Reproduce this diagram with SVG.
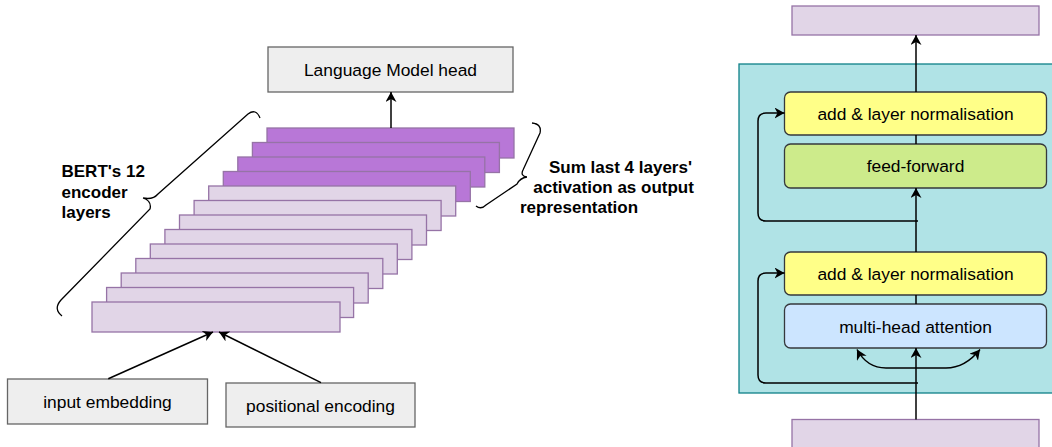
<svg xmlns="http://www.w3.org/2000/svg" width="1052" height="447" viewBox="0 0 1052 447">
<style>
text{font-family:"Liberation Sans",Arial,Helvetica,sans-serif;fill:#000}
.lbl{font-size:17.4px;text-anchor:middle}
.bold{font-size:17px;font-weight:bold}
.grey{fill:#eeeeee;stroke:#666666;stroke-width:1.3}
.dark{fill:#b877d7;stroke:#9673a6;stroke-width:1.3}
.light{fill:#e1d5e7;stroke:#9673a6;stroke-width:1.3}
.yel{fill:#ffff88;stroke:#36393d;stroke-width:1.3}
.grn{fill:#cdeb8b;stroke:#36393d;stroke-width:1.3}
.blu{fill:#cce5ff;stroke:#36393d;stroke-width:1.3}
.con{fill:none;stroke:#000;stroke-width:1.5}
.arr{marker-end:url(#ah)}
.brace{fill:none;stroke:#000;stroke-width:1.3}
</style>
<defs>
<marker id="ah" markerUnits="userSpaceOnUse" markerWidth="12" markerHeight="12" refX="10" refY="5.5" orient="auto">
<path d="M0,0 L10,5.5 L0,11 L3,5.5 Z" fill="#000"/>
</marker>
</defs>

<g id="lm-head"><rect class="grey" x="268" y="47" width="245" height="45"/><text class="lbl" x="390.5" y="75.5">Language Model head</text></g>

<g id="layers">
<g id="layer-1"><rect class="dark" x="267" y="128" width="247" height="30"/></g>
<g id="layer-2"><rect class="dark" x="252.4" y="142.5" width="247" height="30"/></g>
<g id="layer-3"><rect class="dark" x="237.8" y="157" width="247" height="30"/></g>
<g id="layer-4"><rect class="dark" x="223.3" y="171.5" width="247" height="30"/></g>
<g id="layer-5"><rect class="light" x="208.7" y="186" width="247" height="30"/></g>
<g id="layer-6"><rect class="light" x="194.1" y="200.5" width="247" height="30"/></g>
<g id="layer-7"><rect class="light" x="179.5" y="215" width="247" height="30"/></g>
<g id="layer-8"><rect class="light" x="164.9" y="229.5" width="247" height="30"/></g>
<g id="layer-9"><rect class="light" x="150.3" y="244" width="247" height="30"/></g>
<g id="layer-10"><rect class="light" x="135.8" y="258.5" width="247" height="30"/></g>
<g id="layer-11"><rect class="light" x="121.2" y="273" width="247" height="30"/></g>
<g id="layer-12"><rect class="light" x="106.6" y="287.5" width="247" height="30"/></g>
<g id="layer-13"><rect class="light" x="92" y="302" width="248" height="30"/></g>
</g>

<g id="input-embedding"><rect class="grey" x="7.5" y="379" width="200" height="45"/><text class="lbl" x="107.5" y="407.5">input embedding</text></g>
<g id="positional-encoding"><rect class="grey" x="226" y="383" width="189" height="44"/><text class="lbl" x="320.5" y="411.5">positional encoding</text></g>

<g id="bert-label"><text class="bold" x="61.5" y="176.7">BERT's 12</text><text class="bold" x="61.5" y="197.5">encoder</text><text class="bold" x="61.5" y="217.5">layers</text></g>
<g id="sum-label"><text class="bold" x="549" y="172.7">Sum last 4 layers'</text><text class="bold" x="533.3" y="193.3">activation as output</text><text class="bold" x="520" y="213.3">representation</text></g>

<g id="braces">
<path class="brace" d="M260,118 Q256,108 248,114 L158,194 Q153,200 143,198 M143,198 Q152,201 150,209 L61,300 Q53,309 62,316"/>
<path class="brace" d="M532,123 Q542,124 540,133 L523,170 Q520,176 527,177 M527,177 Q520,178 517,184 L486,205 Q481,210 476,206"/>
</g>

<g id="encoder-block"><rect x="739" y="64" width="320" height="329" fill="#b0e3e6" stroke="#0e8088" stroke-width="1.3"/></g>
<g id="out-rect"><rect class="light" x="792" y="6" width="247" height="29"/></g>
<g id="in-rect"><rect class="light" x="792" y="419.5" width="247" height="30"/></g>
<g id="add-norm-2"><rect class="yel" x="784.5" y="92" width="262" height="43" rx="6"/><text class="lbl" x="915.5" y="119.5">add &amp; layer normalisation</text></g>
<g id="feed-forward"><rect class="grn" x="784.5" y="144" width="262" height="44" rx="6"/><text class="lbl" x="915.5" y="172">feed-forward</text></g>
<g id="add-norm-1"><rect class="yel" x="784.5" y="252" width="262" height="43" rx="6"/><text class="lbl" x="915.5" y="280">add &amp; layer normalisation</text></g>
<g id="mha"><rect class="blu" x="784.5" y="304" width="262" height="44" rx="6"/><text class="lbl" x="915.5" y="332.5">multi-head attention</text></g>

<g id="connectors">
<path class="con arr" d="M391,128 L391,92"/>
<path class="con arr" d="M108.3,378.7 L213,332"/>
<path class="con arr" d="M321,382.7 L219,332"/>
<path class="con arr" d="M916,92 L916,35"/>
<path class="con" d="M916,135 L916,144"/>
<path class="con arr" d="M916,252 L916,188"/>
<path class="con arr" d="M918,221 L766,221 Q758,221 758,213 L758,121 Q758,113 766,113 L784.5,113"/>
<path class="con" d="M916,295 L916,304"/>
<path class="con arr" d="M916,419.5 L916,348"/>
<path class="con arr" d="M916,368 L886,368 Q867,368 857,349.5"/>
<path class="con arr" d="M916,368 L946,368 Q965,368 980,349.5"/>
<path class="con arr" d="M918,383 L766,383 Q758,383 758,375 L758,281 Q758,273 766,273 L784.5,273"/>
</g>
</svg>
